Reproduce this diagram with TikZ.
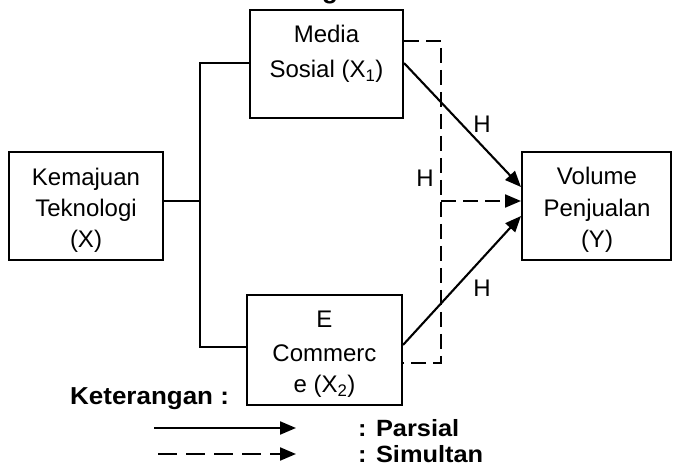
\documentclass[tikz,border=0pt]{standalone}
\usepackage{fontspec}
\setmainfont{Liberation Sans}
\newfontfamily\ketfont[FakeStretch=1.06]{Liberation Sans Bold}
\newfontfamily\legfont[FakeStretch=1.08]{Liberation Sans Bold}
\usetikzlibrary{arrows.meta}
\begin{document}
\begin{tikzpicture}[x=1pt,y=-1pt,
  box/.style={draw, line width=2pt, inner sep=0pt},
  txt/.style={anchor=base, inner sep=0pt, font=\fontsize{24}{28}\selectfont},
  conn/.style={line width=1.9pt},
  arr/.style={-{Triangle[length=16pt,width=13pt]}, line width=2.1pt},
  simul/.style={dash pattern=on 15pt off 7pt, line width=2pt},
  legdash/.style={dash pattern=on 19pt off 9pt, line width=2pt},
  ket/.style={anchor=base west, inner sep=0pt, font=\ketfont\fontsize{24.5}{28}\selectfont},
  leg/.style={anchor=base west, inner sep=0pt, font=\legfont\fontsize{23.5}{28}\selectfont}]
\useasboundingbox (0,0) rectangle (673,470);

% title fragment
\node[anchor=base, inner sep=0pt, font=\bfseries\fontsize{26}{30}\selectfont] (ttl) at (330,-1.5) {g};

% boxes
\node[box, minimum width=154pt, minimum height=108pt] (kem) at (86,206) {};
\node[box, minimum width=153pt, minimum height=108pt] (med) at (326.5,64) {};
\node[box, minimum width=155pt, minimum height=110pt] (ecom) at (324.5,350) {};
\node[box, minimum width=149pt, minimum height=108pt] (vol) at (596.5,206) {};

% box texts
\node[txt] (kem1) at (86,186) {Kemajuan};
\node[txt] (kem2) at (86,217) {Teknologi};
\node[txt] (kem3) at (86,248) {(X)};
\node[txt] (med1) at (326.5,43) {Media};
\node[txt] (med2) at (326.5,78) {Sosial (X\textsubscript{1})};
\node[txt] (ecom1) at (324.5,328) {E};
\node[txt] (ecom2) at (324.5,362) {Commerc};
\node[txt] (ecom3) at (324.5,393) {e (X\textsubscript{2})};
\node[txt] (vol1) at (597,185) {Volume};
\node[txt] (vol2) at (597,217) {Penjualan};
\node[txt] (vol3) at (597,248) {(Y)};

% tree connector
\coordinate (jm) at (200,201);
\coordinate (jt) at (200,63);
\coordinate (jb) at (200,347);
\draw[conn] ([yshift=5pt]kem.east) -- (jm);
\draw[conn] (med.west |- jt) -- (jt) -- (jb) -- (ecom.west |- jb);

% partial arrows
\draw[arr] ([yshift=1pt]med.east) -- ([yshift=19pt]vol.west);
\draw[arr] ([yshift=5pt]ecom.east) -- ([yshift=-10pt]vol.west);

% simultaneous
\coordinate (dt) at (441,41);
\coordinate (db) at (441,363);
\coordinate (dm) at (441,201);
\draw[simul] ([yshift=23pt]med.east) -- (dt) -- (db) -- ([yshift=-13pt]ecom.east);
\draw[simul, arr] (dm) -- ([yshift=5pt]vol.west);

% H labels
\node[txt] (h1) at (482,133) {H};
\node[txt] (h2) at (425,187) {H};
\node[txt] (h3) at (482,297) {H};

% legend
\node[ket] (keter) at (70,405) {Keterangan :};
\coordinate (pa) at (154,428);
\coordinate (pb) at (296,428);
\coordinate (sa) at (158,454);
\coordinate (sb) at (296,454);
\draw[arr] (pa) -- (pb);
\draw[legdash, arr] (sa) -- (sb);
\node[leg] (lpar) at (358,437) {: Parsial};
\node[leg] (lsim) at (358,463) {: Simultan};
\end{tikzpicture}
\end{document}
